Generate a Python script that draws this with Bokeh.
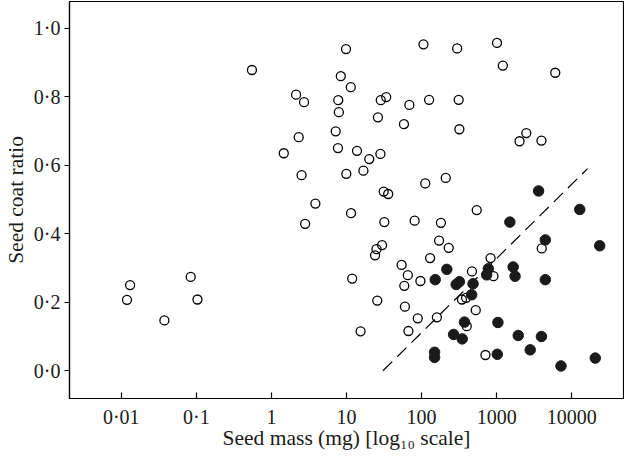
from bokeh.plotting import figure
from bokeh.models import Range1d, FixedTicker
from bokeh.embed import file_html
from bokeh.resources import INLINE

# Open circles: seed mass (mg), seed coat ratio
open_mass = [0.0119, 0.0131, 0.0375, 0.084, 0.1035, 0.55, 2.13, 2.72, 2.31, 1.46,
             2.52, 3.85, 2.81, 9.85, 106, 8.4, 11.4, 7.77, 7.91, 28.6,
             33.8, 26.2, 68.8, 58.3, 126, 7.18, 7.69, 13.8, 20.1, 28.3,
             298, 1012, 1209, 6040, 312, 319, 2484, 2019, 3954, 9.94,
             16.8, 112, 31.3, 35.9, 11.5, 31.9, 80.8, 29.8, 25.1, 24.0,
             130, 54.3, 65.6, 58.9, 96.5, 11.9, 210, 543, 181, 171,
             230, 830, 3990, 469, 907, 25.7, 60, 89, 160, 345,
             392, 527, 400, 15.4, 66.8, 709]
open_ratio = [0.207, 0.250, 0.147, 0.274, 0.208, 0.878, 0.806, 0.784, 0.682, 0.635,
              0.571, 0.488, 0.429, 0.939, 0.953, 0.860, 0.828, 0.790, 0.755, 0.790,
              0.799, 0.740, 0.776, 0.720, 0.791, 0.699, 0.650, 0.642, 0.618, 0.633,
              0.941, 0.957, 0.891, 0.870, 0.791, 0.705, 0.694, 0.670, 0.672, 0.575,
              0.584, 0.547, 0.523, 0.516, 0.460, 0.434, 0.438, 0.367, 0.355, 0.337,
              0.329, 0.309, 0.279, 0.248, 0.262, 0.269, 0.563, 0.469, 0.432, 0.380,
              0.359, 0.329, 0.357, 0.290, 0.276, 0.205, 0.187, 0.153, 0.156, 0.208,
              0.213, 0.177, 0.130, 0.115, 0.116, 0.046]

# Filled circles
filled_mass = [3620, 12800, 1500, 4450, 23600, 1660, 1760, 4450, 217, 152,
               289, 319, 485, 465, 775, 735, 373, 1040, 267, 348,
               1940, 3950, 2800, 149, 149, 1020, 7200, 20600]
filled_ratio = [0.525, 0.471, 0.434, 0.382, 0.365, 0.303, 0.276, 0.266, 0.296, 0.266,
                0.252, 0.260, 0.254, 0.222, 0.298, 0.280, 0.142, 0.141, 0.106, 0.093,
                0.103, 0.100, 0.061, 0.054, 0.039, 0.048, 0.014, 0.037]

# Dashed boundary line
line_mass = [30.6, 16250]
line_ratio = [0.0, 0.59]

x_ticks = [0.01, 0.1, 1, 10, 100, 1000, 10000]
x_tick_labels = ["0·01", "0·1", "1", "10", "100", "1000", "10000"]
y_ticks = [0.0, 0.2, 0.4, 0.6, 0.8, 1.0]
y_tick_labels = ["0·0", "0·2", "0·4", "0·6", "0·8", "1·0"]

FONT = "Liberation Serif"

p = figure(width=624, height=452, x_axis_type="log",
           x_range=Range1d(10 ** -2.69, 10 ** 4.69), y_range=Range1d(-0.081, 1.078),
           output_backend="svg", toolbar_location=None,
           min_border_left=58, min_border_right=1, min_border_top=1, min_border_bottom=50)

p.background_fill_color = "white"
p.border_fill_color = "white"
p.outline_line_color = "black"
p.outline_line_width = 1.2
p.xgrid.visible = False
p.ygrid.visible = False

p.line(line_mass, line_ratio, line_color="black", line_width=1.2, line_dash="13 7")
p.scatter(open_mass, open_ratio, marker="circle", size=9, fill_alpha=0,
          line_color="black", line_width=1.3)
p.scatter(filled_mass, filled_ratio, marker="circle", size=10.5, fill_color="#1a1a1a",
          line_color="#1a1a1a", line_width=1)

xa = p.xaxis[0]
xa.ticker = FixedTicker(ticks=x_ticks)
xa.major_label_overrides = {t: l for t, l in zip(x_ticks, x_tick_labels)}
xa.minor_tick_line_color = None
xa.major_tick_in = 6
xa.major_tick_out = 0
xa.major_label_standoff = 7
xa.axis_label = "Seed mass (mg) [log₁₀ scale]"
xa.axis_label_standoff = -5

ya = p.yaxis[0]
ya.ticker = FixedTicker(ticks=y_ticks)
ya.major_label_overrides = {t: l for t, l in zip(y_ticks, y_tick_labels)}
ya.minor_tick_line_color = None
ya.major_tick_in = 0
ya.major_tick_out = 5
ya.major_label_standoff = 4
ya.axis_label = "Seed coat ratio"
ya.axis_label_standoff = 3

for ax in (xa, ya):
    ax.axis_line_color = "black"
    ax.axis_line_width = 1.2
    ax.major_tick_line_color = "black"
    ax.major_tick_line_width = 1.2
    ax.major_label_text_font = FONT
    ax.major_label_text_font_size = "20px"
    ax.major_label_text_color = "#1a1a1a"
    ax.axis_label_text_font = FONT
    ax.axis_label_text_font_size = "21.5px"
    ax.axis_label_text_font_style = "normal"
    ax.axis_label_text_color = "#1a1a1a"

open("out.html", "w").write(file_html(p, INLINE))
